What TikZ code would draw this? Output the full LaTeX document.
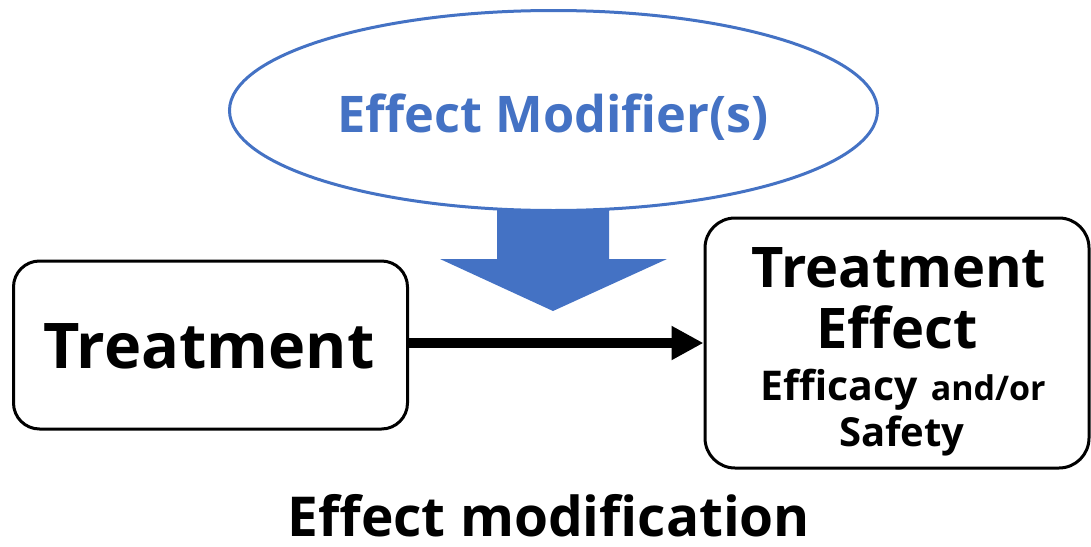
\documentclass[tikz,border=0pt]{standalone}
\usepackage{fontspec}
\setmainfont{Open Sans}[BoldFont={* Bold}]
\usetikzlibrary{shapes.geometric,arrows.meta}
\definecolor{modblue}{HTML}{4472C4}
\tikzset{
  box/.style={draw=black, line width=3pt, rounded corners=26pt, fill=white},
  label/.style={anchor=base, inner sep=0pt, font=\bfseries},
  flow/.style={line width=10pt, -{Triangle[length=32pt,width=32pt]}},
}
\begin{document}
\begin{tikzpicture}[x=1pt,y=-1pt]
\useasboundingbox (0,0) rectangle (1091,546);

% broad downward arrow from the modifier ellipse
\fill[modblue] (497,190) -- (609,190) -- (609,259) -- (667,259)
  -- (553,311) -- (440,259) -- (497,259) -- cycle;

% effect modifier ellipse
\node[ellipse, draw=modblue, line width=3pt, fill=white,
  minimum width=648pt, minimum height=200pt] (mod) at (553.5,110.5) {};
\node[label, text=modblue, font=\bfseries\fontsize{50.5}{54}\selectfont] (modtext) at (553,132) {Effect Modifier(s)};

% treatment box
\node[box, minimum width=394pt, minimum height=168pt] (treat) at (210.5,345) {};
\node[label, font=\bfseries\fontsize{63}{70}\selectfont] (treattext) at (209,368) {Treatment};

% treatment effect box
\node[box, minimum width=384pt, minimum height=250pt, rounded corners=30pt] (effect) at (897,343) {};
\node[label, font=\bfseries\fontsize{56}{60}\selectfont] (eff1) at (899,287) {Treatment};
\node[label, font=\bfseries\fontsize{56}{60}\selectfont] (eff2) at (897,348) {Effect};
\node[label] (eff3) at (903,400) {{\fontsize{41}{44}\selectfont Efficacy}\hspace{13pt}{\fontsize{34}{38}\selectfont and/or}};
\node[label, font=\bfseries\fontsize{40}{44}\selectfont] (eff4) at (902,446) {Safety};

% causal arrow
\draw[flow] (treat.east |- effect.west) -- (effect.west);

% caption
\node[label, font=\bfseries\fontsize{55}{60}\selectfont] (caption) at (549,536) {Effect modification};
\end{tikzpicture}
\end{document}
